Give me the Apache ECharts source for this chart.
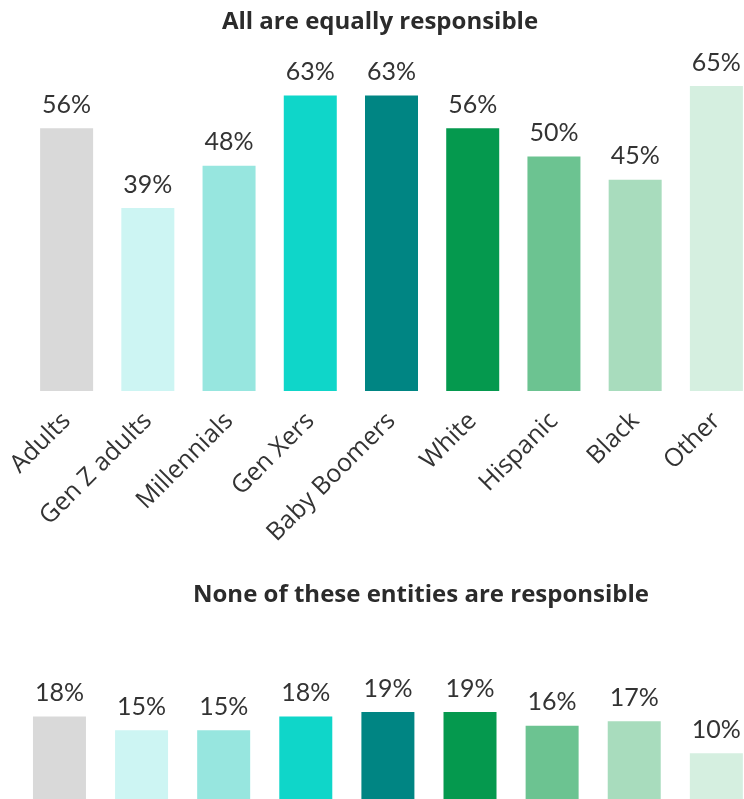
<!DOCTYPE html>
<html>
<head>
<meta charset="utf-8">
<script src="https://cdn.jsdelivr.net/npm/echarts@6/dist/echarts.min.js"></script>
<style>html,body{margin:0;padding:0;background:#fff}#c{width:744px;height:799px}</style>
</head>
<body>
<div id="c"></div>
<script>
var categories = ["Adults", "Gen Z adults", "Millennials", "Gen Xers", "Baby Boomers", "White", "Hispanic", "Black", "Other"];
var allEqual = [56, 39, 48, 63, 63, 56, 50, 45, 65];
var noneResp = [18, 15, 15, 18, 19, 19, 16, 17, 10];
var colors = ["#d9d9d9", "#cdf5f3", "#97e6df", "#0fd6c9", "#008583", "#05994e", "#6cc391", "#a8dcbd", "#d5efe0"];
var titles = ["All are equally responsible", "None of these entities are responsible"];

var chart = echarts.init(document.getElementById('c'), null, {renderer: 'canvas'});
function mk(vals) {
  return vals.map(function (v, i) { return {value: v, itemStyle: {color: colors[i]}}; });
}
var valFont = {fontFamily: 'Lato', fontSize: 25, color: '#333333'};
var titleFont = {fontFamily: 'Open Sans', fontWeight: 'bold', fontSize: 24, color: '#2b2b2b'};
chart.setOption({
  animation: false,
  title: [
    {text: titles[0], left: 375, top: 5, textAlign: 'center', textStyle: titleFont},
    {text: titles[1], left: 416, top: 578, textAlign: 'center', textStyle: titleFont}
  ],
  grid: [
    {left: 26, width: 731, top: 86, height: 305, outerBoundsMode: 'none'},
    {left: 18.4, width: 739, top: 712, height: 87, outerBoundsMode: 'none'}
  ],
  xAxis: [
    {type: 'category', gridIndex: 0, data: categories, axisLine: {show: false}, axisTick: {show: false},
     axisLabel: {interval: 0, rotate: 45, margin: 26, fontFamily: 'Open Sans', fontSize: 25, color: '#333333'}},
    {type: 'category', gridIndex: 1, data: categories, axisLine: {show: false}, axisTick: {show: false}, axisLabel: {show: false}}
  ],
  yAxis: [
    {type: 'value', gridIndex: 0, min: 0, max: 65, show: false, splitLine: {show: false}},
    {type: 'value', gridIndex: 1, min: 0, max: 19, show: false, splitLine: {show: false}}
  ],
  series: [
    {type: 'bar', xAxisIndex: 0, yAxisIndex: 0, barWidth: 53, data: mk(allEqual),
     label: Object.assign({show: true, position: 'top', distance: 11, formatter: '{c}%'}, valFont)},
    {type: 'bar', xAxisIndex: 1, yAxisIndex: 1, barWidth: 53, data: mk(noneResp),
     label: Object.assign({show: true, position: 'top', distance: 11, formatter: '{c}%'}, valFont)}
  ]
});
</script>
</body>
</html>
